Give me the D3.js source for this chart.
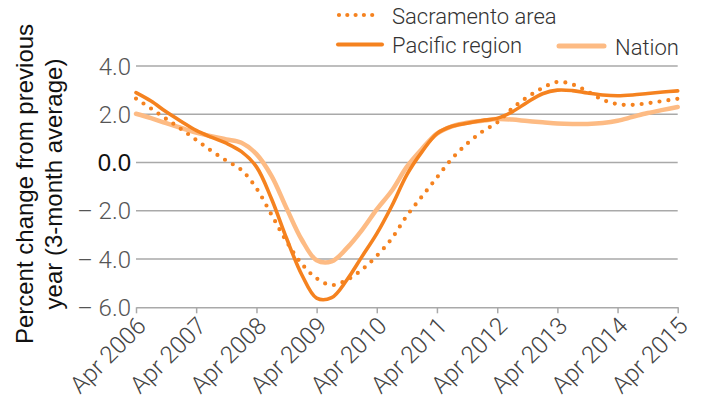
<!DOCTYPE html>
<html>
<head>
<meta charset="utf-8">
<script src="https://cdn.jsdelivr.net/npm/d3@7"></script>
<style>
  body { margin: 0; background: #fff; }
  svg { display: block; }
  text { font-family: "Liberation Sans", Arial, sans-serif; }
  .light { font-family: Roboto, "Liberation Sans", Arial, sans-serif; font-weight: 300; }
</style>
</head>
<body>
<svg id="chart" width="704" height="402"></svg>
<script>
// Quarterly periods (year-month)
const periods = [
  "2006-04","2006-07","2006-10","2007-01","2007-04","2007-07","2007-10","2008-01",
  "2008-04","2008-07","2008-10","2009-01","2009-04","2009-07","2009-10","2010-01",
  "2010-04","2010-07","2010-10","2011-01","2011-04","2011-07","2011-10","2012-01",
  "2012-04","2012-07","2012-10","2013-01","2013-04","2013-07","2013-10","2014-01",
  "2014-04","2014-07","2014-10","2015-01","2015-04"
];

// Percent change from previous year (3-month average)
const sacramento = [
  2.65, 2.24, 1.81, 1.38, 0.94, 0.49, 0.08, -0.31,
  -1.07, -2.16, -3.28, -4.2, -4.8, -5.08, -4.87, -4.44,
  -3.87, -3.15, -2.2, -1.4, -0.62, 0.16, 0.78, 1.28,
  1.66, 2.24, 2.71, 3.09, 3.34, 3.24, 2.94, 2.6,
  2.42, 2.39, 2.46, 2.55, 2.64
];
const pacific = [
  2.9, 2.55, 2.1, 1.7, 1.33, 1.05, 0.8, 0.45,
  -0.18, -1.5, -3.15, -4.65, -5.62, -5.6, -4.87, -3.9,
  -2.95, -1.8, -0.5, 0.45, 1.2, 1.5, 1.63, 1.74,
  1.83, 2.1, 2.5, 2.85, 3.0, 2.98, 2.88, 2.8,
  2.77, 2.8, 2.86, 2.92, 2.97
];
const nation = [
  2.02, 1.84, 1.63, 1.43, 1.24, 1.09, 0.96, 0.82,
  0.35, -0.55, -1.9, -3.2, -4.05, -4.1, -3.55, -2.8,
  -1.94, -1.17, -0.17, 0.57, 1.2, 1.5, 1.65, 1.73,
  1.8, 1.78, 1.72, 1.67, 1.62, 1.6, 1.6, 1.64,
  1.73, 1.89, 2.05, 2.18, 2.3
];

const yTicks = [4, 2, 0, -2, -4, -6];
const xTickLabels = [
  "Apr 2006","Apr 2007","Apr 2008","Apr 2009","Apr 2010",
  "Apr 2011","Apr 2012","Apr 2013","Apr 2014","Apr 2015"
];
const seriesNames = ["Sacramento area", "Pacific region", "Nation"];

const ORANGE = "#f5821f";
const LIGHT = "#fdbb84";
const GRID = "#a9a9a9";

const svg = d3.select("#chart");
const parsePeriod = d3.timeParse("%Y-%m");
const parseTick = d3.timeParse("%b %Y");
const dates = periods.map(parsePeriod);
const tickDates = xTickLabels.map(parseTick);

const x = d3.scaleTime()
  .domain([tickDates[0], tickDates[tickDates.length - 1]])
  .range([136, 677.7]);
const y = d3.scaleLinear().domain([-6, 4]).range([307.3, 66]);

// Horizontal gridlines
svg.append("g")
  .selectAll("line")
  .data(yTicks.filter(v => v !== -6))
  .join("line")
  .attr("x1", x.range()[0]).attr("x2", x.range()[1])
  .attr("y1", d => y(d)).attr("y2", d => y(d))
  .attr("stroke", GRID).attr("stroke-width", 1.5);

// Y tick labels
const fmtY = v => v < 0 ? "\u2013 " + Math.abs(v).toFixed(1) : v.toFixed(1);
svg.append("g")
  .selectAll("text")
  .data(yTicks)
  .join("text")
  .attr("class", d => d === 0 ? null : "light")
  .attr("x", 131)
  .attr("y", d => y(d))
  .attr("dy", "0.36em")
  .attr("text-anchor", "end")
  .attr("font-size", 24)
  .attr("fill", d => d === 0 ? "#111" : "#555")
  .text(fmtY);

// Bottom axis
const xAxis = d3.axisBottom(x)
  .tickValues(tickDates)
  .tickSize(6)
  .tickSizeOuter(0)
  .tickFormat((d, i) => xTickLabels[i]);

const gx = svg.append("g")
  .attr("transform", `translate(0,${y(-6)})`)
  .call(xAxis);
gx.attr("font-family", null).attr("font-size", null);
gx.select(".domain").attr("stroke", GRID).attr("stroke-width", 1.5);
gx.selectAll(".tick line").attr("stroke", GRID).attr("stroke-width", 1.5);
gx.selectAll(".tick text")
  .attr("class", "light")
  .attr("font-size", 24)
  .attr("fill", "#444")
  .attr("text-anchor", "end")
  .attr("y", 0).attr("dy", 0)
  .attr("transform", "translate(11,20) rotate(-45)");

// Lines
const line = d3.line()
  .x((d, i) => x(dates[i]))
  .y(d => y(d))
  .curve(d3.curveCatmullRom.alpha(0.5));

svg.append("path").datum(nation)
  .attr("d", line).attr("fill", "none")
  .attr("stroke", LIGHT).attr("stroke-width", 4.5)
  .attr("stroke-linejoin", "round").attr("stroke-linecap", "round");

svg.append("path").datum(pacific)
  .attr("d", line).attr("fill", "none")
  .attr("stroke", ORANGE).attr("stroke-width", 3.6)
  .attr("stroke-linejoin", "round").attr("stroke-linecap", "round");

svg.append("path").datum(sacramento)
  .attr("d", line).attr("fill", "none")
  .attr("stroke", ORANGE).attr("stroke-width", 4.2)
  .attr("stroke-dasharray", "0 9")
  .attr("stroke-linecap", "round");

// Y axis title
const title = svg.append("text")
  .attr("transform", "translate(33,184) rotate(-90)")
  .attr("text-anchor", "middle")
  .attr("font-size", 24)
  .attr("fill", "#111");
title.append("tspan").attr("x", 0).attr("y", 0).text("Percent change from previous");
title.append("tspan").attr("x", 0).attr("y", 29).text("year (3-month average)");

// Legend
const legend = [
  { name: seriesNames[0], x1: 339, x2: 380, y: 15, color: ORANGE, w: 4.2, dash: "0 8.3", tx: 392, ty: 23.5 },
  { name: seriesNames[1], x1: 338, x2: 382, y: 44.5, color: ORANGE, w: 4, dash: null, tx: 392, ty: 52.5 },
  { name: seriesNames[2], x1: 559, x2: 604, y: 46, color: LIGHT, w: 5, dash: null, tx: 615, ty: 55 }
];
const lg = svg.append("g");
legend.forEach(d => {
  lg.append("line")
    .attr("x1", d.x1).attr("x2", d.x2).attr("y1", d.y).attr("y2", d.y)
    .attr("stroke", d.color).attr("stroke-width", d.w)
    .attr("stroke-linecap", "round")
    .attr("stroke-dasharray", d.dash);
  lg.append("text")
    .attr("class", "light")
    .attr("x", d.tx).attr("y", d.ty)
    .attr("font-size", 22)
    .attr("fill", "#333")
    .text(d.name);
});
</script>
</body>
</html>
